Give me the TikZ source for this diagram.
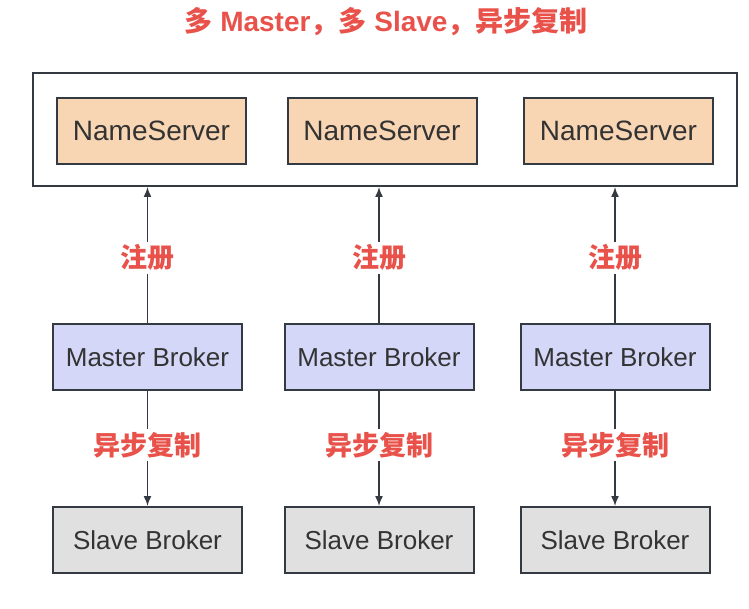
\documentclass[tikz,border=0pt]{standalone}
\usepackage{fontspec}
\setmainfont{Liberation Sans}
\newfontfamily\cjk{Noto Sans CJK SC}
\usetikzlibrary{arrows.meta}
\definecolor{edge}{HTML}{343A42}
\definecolor{ink}{HTML}{333333}
\definecolor{alert}{HTML}{E8524A}
\definecolor{peach}{HTML}{F8D6B4}
\definecolor{lilac}{HTML}{D4D7F8}
\definecolor{ash}{HTML}{E0E0E0}
\tikzset{
  box/.style={draw=edge,line width=2pt,minimum width=189pt,minimum height=66pt,inner sep=0pt,text=ink},
  nsbox/.style={box,fill=peach,font=\fontsize{28}{32}\selectfont},
  mbox/.style={box,fill=lilac,font=\fontsize{26}{30}\selectfont},
  sbox/.style={box,fill=ash,font=\fontsize{26}{30}\selectfont},
  link/.style={edge,line width=1.5pt,-{Latex[length=10pt,width=8pt]}},
  tag/.style={fill=white,text=alert,inner sep=3pt,font=\cjk\bfseries\fontsize{27}{30}\selectfont}
}

\begin{document}
\begin{tikzpicture}[x=1pt,y=-1pt]
  \useasboundingbox (0,0) rectangle (749,609);
  \node[text=alert,font=\bfseries\fontsize{28}{32}\selectfont] (title) at (386,22)
     {{\cjk 多} Master{\cjk ，多} Slave{\cjk ，异步复制}};
  \node[draw=edge,line width=2pt,minimum width=704pt,minimum height=113pt] (cluster) at (385,129.5) {};
  \foreach \i/\nx/\bx in {1/151.5/147.5, 2/382/379, 3/618.5/615}{
    \node[nsbox] (ns\i) at (\nx,131) {NameServer};
    \node[mbox] (mb\i) at (\bx,357) {Master Broker};
    \node[sbox] (sb\i) at (\bx,540) {Slave Broker};
    \draw[link] (mb\i.north) -- (mb\i.north |- cluster.south) node[tag,pos=0.48]{注册};
    \draw[link] (mb\i) -- (sb\i) node[tag,pos=0.47]{异步复制};
  }
\end{tikzpicture}
\end{document}
